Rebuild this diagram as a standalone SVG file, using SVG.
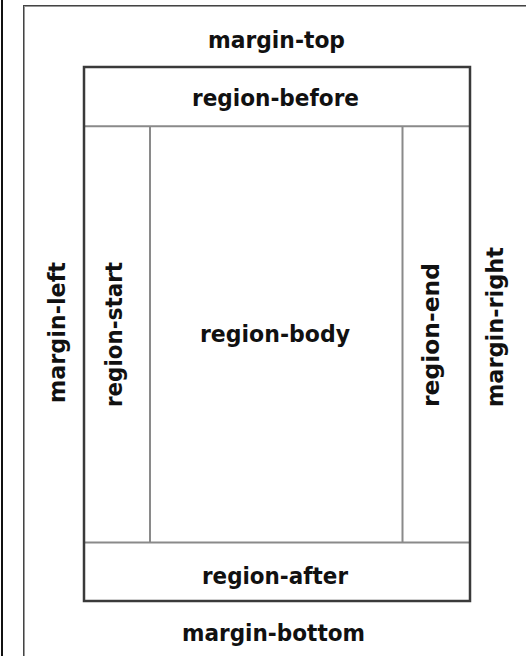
<svg xmlns="http://www.w3.org/2000/svg" width="526" height="656" viewBox="0 0 526 656">
<style>
.lbl{font-family:"DejaVu Sans","Liberation Sans",sans-serif;font-weight:bold;font-size:23px;fill:#111;text-anchor:middle;}
.div{stroke:#8a8a8a;stroke-width:2;fill:none;}
.frame{stroke:#3a3a3a;stroke-width:2.5;fill:none;}
</style>
<rect x="0" y="0" width="526" height="656" fill="#fff"/>
<g id="page-edge">
<rect x="1" y="0" width="2" height="656" fill="#111"/>
</g>
<g id="page">
<line x1="23.5" y1="6" x2="23.5" y2="656" stroke="#444" stroke-width="1"/>
<line x1="24.5" y1="7" x2="24.5" y2="656" stroke="#999" stroke-width="1"/>
<line x1="23" y1="5.5" x2="526" y2="5.5" stroke="#444" stroke-width="1"/>
<line x1="24" y1="6.5" x2="526" y2="6.5" stroke="#999" stroke-width="1"/>
</g>
<g id="margin-top"><text class="lbl" x="276.5" y="48" textLength="137" lengthAdjust="spacingAndGlyphs">margin-top</text></g>
<g id="margin-bottom"><text class="lbl" x="273.5" y="641" textLength="183" lengthAdjust="spacingAndGlyphs">margin-bottom</text></g>
<g id="margin-left"><text class="lbl" transform="translate(65,332.5) rotate(-90)" x="0" y="0" textLength="141" lengthAdjust="spacingAndGlyphs">margin-left</text></g>
<g id="margin-right"><text class="lbl" transform="translate(503,327) rotate(-90)" x="0" y="0" textLength="160" lengthAdjust="spacingAndGlyphs">margin-right</text></g>
<g id="connectors">
<line class="div" x1="84" y1="126.3" x2="470" y2="126.3"/>
<line class="div" x1="84" y1="542.5" x2="470" y2="542.5"/>
<line class="div" x1="150" y1="126.3" x2="150" y2="542.5"/>
<line class="div" x1="402.5" y1="126.3" x2="402.5" y2="542.5"/>
</g>
<g id="region-before"><text class="lbl" x="275.5" y="106" textLength="167" lengthAdjust="spacingAndGlyphs">region-before</text></g>
<g id="region-start"><text class="lbl" transform="translate(122,334.5) rotate(-90)" x="0" y="0" textLength="145" lengthAdjust="spacingAndGlyphs">region-start</text></g>
<g id="region-body"><text class="lbl" x="275" y="342" textLength="150" lengthAdjust="spacingAndGlyphs">region-body</text></g>
<g id="region-end"><text class="lbl" transform="translate(439,335) rotate(-90)" x="0" y="0" textLength="144" lengthAdjust="spacingAndGlyphs">region-end</text></g>
<g id="region-after"><text class="lbl" x="275" y="584" textLength="146" lengthAdjust="spacingAndGlyphs">region-after</text></g>
<g id="page-area"><rect class="frame" x="84" y="67" width="386" height="534"/></g>
</svg>
